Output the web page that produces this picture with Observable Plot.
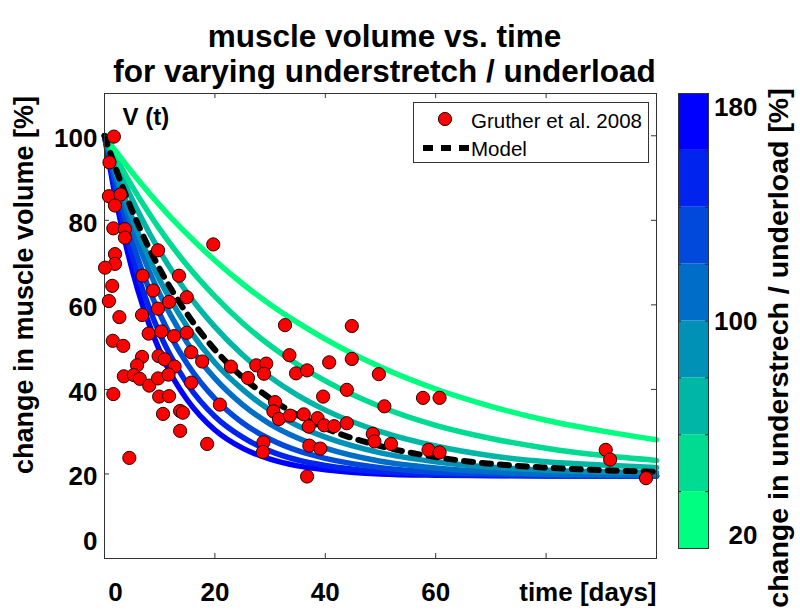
<!DOCTYPE html>
<html><head><meta charset="utf-8">
<script src="https://cdn.jsdelivr.net/npm/d3@7"></script>
<script src="https://cdn.jsdelivr.net/npm/@observablehq/plot@0.6"></script>
<style>
body{margin:0;background:#fff;}
#wrap{position:relative;width:800px;height:615px;overflow:hidden;background:#fff;}
#wrap > svg, #wrap > div {position:absolute;left:0;top:0;}
</style></head><body><div id="wrap"></div>
<script>
// ---------- data ----------
const titleLines = ["muscle volume vs. time", "for varying understretch / underload"];
const yLabel = "change in muscle volume [%]";
const xLabel = "time [days]";
const cbLabel = "change in understrech / underload [%]";
const legendLabels = ["Gruther et al. 2008", "Model"];
const panelLabel = "V (t)";

const xTicks = [20, 40, 60, 80];
const xTickLabels = [20, 40, 60];
const yTicks = [20, 40, 60, 80, 100];
const cbTickLabels = [20, 100, 180];

// model curves (time in days, volume in %)
const days = [0, 2, 4, 6, 8, 10, 12, 15, 20, 25, 30, 35, 40, 50, 60, 70, 80, 90, 100];
const underload = [20, 43, 66, 89, 111, 134, 157, 180];
const vol20  = [100, 96.4, 93.0, 89.7, 86.6, 83.6, 80.7, 76.7, 70.5, 65.0, 60.1, 55.8, 51.9, 45.3, 40.1, 36.0, 32.7, 30.2, 28.1];
const vol43  = [100, 95.0, 90.3, 85.9, 81.8, 77.9, 74.3, 69.3, 62.0, 55.7, 50.4, 45.9, 42.0, 35.9, 31.5, 28.4, 26.1, 24.4, 23.2];
const vol66  = [100, 93.6, 87.7, 82.3, 77.3, 72.7, 68.5, 62.8, 54.8, 48.2, 42.9, 38.6, 35.1, 30.0, 26.6, 24.3, 22.9, 22.1, 21.5];
const vol89  = [100, 91.6, 84.1, 77.3, 71.3, 65.9, 61.1, 54.8, 46.3, 40.0, 35.1, 31.4, 28.7, 25.0, 22.9, 21.6, 20.9, 20.5, 20.3];
const vol111 = [100, 90.5, 82.2, 74.8, 68.3, 62.6, 57.5, 51.0, 42.6, 36.4, 31.8, 28.5, 26.1, 23.0, 21.4, 20.5, 20.0, 19.8, 19.7];
const vol134 = [100, 88.9, 79.4, 71.1, 64.0, 57.9, 52.6, 46.0, 37.8, 32.1, 28.2, 25.5, 23.7, 21.5, 20.4, 20.0, 19.7, 19.6, 19.5];
const vol157 = [100, 87.2, 76.3, 67.3, 59.6, 53.2, 47.9, 41.3, 33.6, 28.7, 25.4, 23.3, 22.0, 20.5, 19.9, 19.7, 19.6, 19.5, 19.5];
const vol180 = [100, 85.4, 73.5, 63.7, 55.7, 49.1, 43.7, 37.5, 30.4, 26.1, 23.5, 21.9, 21.0, 20.0, 19.7, 19.6, 19.5, 19.5, 19.5];
const modelVol = [100, 92.4, 85.5, 79.3, 73.6, 68.5, 63.9, 57.8, 49.4, 42.9, 37.9, 33.9, 30.8, 26.6, 24.0, 22.4, 21.5, 20.9, 20.5];
const curveColors = ["#00ff80", "#00db92", "#00b6a4", "#0092b6", "#006dc8", "#0049db", "#0024ed", "#0000ff"];

// Gruther et al. 2008 measurements
const dotDays = [1.7, 0.9, 0.8, 2.9, 1.9, 1.6, 3.7, 3.7, 19.7, 9.7, 1.9, 1.9, 0.1, 6.9, 13.5, 1.4, 8.8, 0.8, 14.9, 11.7,
  9.7, 2.7, 6.8, 32.7, 8.0, 10.3, 12.6, 14.9, 1.5, 3.4, 15.7, 6.8, 17.7, 33.5, 40.7, 9.8, 10.9, 5.9, 12.7, 22.9,
  27.5, 29.3, 28.9, 34.7, 36.7, 3.5, 5.3, 6.4, 8.1, 9.7, 11.6, 26.0, 15.7, 1.6, 9.9, 11.7, 39.6, 30.9, 20.9, 13.7,
  14.2, 10.6, 30.6, 31.6, 33.6, 36.1, 38.6, 37.0, 39.8, 41.6, 13.7, 18.6, 28.8, 28.7, 37.1, 39.1, 4.5, 36.7, 44.8, 44.8,
  43.9, 49.7, 43.9, 48.6, 48.9, 50.7, 51.9, 57.7, 60.7, 58.7, 60.7, 90.8, 91.6, 98.1];
const dotVolume = [99.8, 93.7, 85.7, 86.1, 83.5, 78.1, 77.9, 75.9, 74.3, 72.9, 72.0, 69.7, 68.8, 66.9, 66.9, 64.5, 63.4, 60.9, 61.8, 60.7,
  59.1, 57.1, 57.6, 55.2, 53.2, 53.7, 52.6, 53.4, 51.5, 50.3, 48.8, 47.7, 46.6, 48.1, 46.4, 47.9, 47.1, 45.7, 45.4, 45.4,
  45.7, 46.1, 43.7, 43.8, 44.5, 43.1, 43.4, 42.5, 40.9, 42.6, 43.5, 42.7, 41.6, 38.9, 38.3, 38.4, 38.3, 37.0, 36.4, 34.9,
  34.5, 34.2, 34.8, 33.0, 33.8, 34.1, 33.2, 31.2, 31.5, 31.3, 30.2, 27.1, 27.5, 25.2, 26.7, 26.0, 23.8, 19.4, 55.0, 47.2,
  39.9, 43.6, 32.0, 29.5, 27.7, 36.0, 27.1, 38.0, 38.0, 25.7, 25.1, 25.7, 23.4, 19.0];

// colorbar bands
const bandEdges = [15, 36.25, 57.5, 78.75, 100, 121.25, 142.5, 163.75, 185];
const bandColors = ["#00ff80", "#00db92", "#00b6a4", "#0092b6", "#006dc8", "#0049db", "#0024ed", "#0000ff"];

// ---------- build ----------
const F = "'Liberation Sans', Arial, Helvetica, sans-serif";
const curveSeries = [vol20, vol43, vol66, vol89, vol111, vol134, vol157, vol180];
const curveMarks = curveSeries.map((vals, k) =>
  Plot.line(days.map((t, i) => ({t, v: vals[i], u: underload[k]})),
    {x: "t", y: "v", stroke: curveColors[k], strokeWidth: 5.5, curve: "monotone-x"})
).reverse();
const modelRows = days.map((t, i) => ({t, v: modelVol[i]}));
const dotRows = dotDays.map((t, i) => ({t, v: dotVolume[i]}));
const bold = {fontWeight: "bold", fill: "#000"};

const main = Plot.plot({
  width: 800, height: 615,
  marginLeft: 104, marginRight: 144, marginTop: 93, marginBottom: 57,
  x: {domain: [0, 100], axis: null},
  y: {domain: [0, 110], axis: null},
  style: {fontFamily: F, background: "transparent", overflow: "visible"},
  marks: [
    ...curveMarks,
    Plot.line(modelRows, {x: "t", y: "v", stroke: "#000", strokeWidth: 6, strokeDasharray: "9 9", curve: "monotone-x"}),
    Plot.frame({stroke: "#333", strokeWidth: 1}),
    Plot.tickX(xTicks, {x: d => d, insetTop: 460, stroke: "#333"}),
    Plot.tickX(xTicks, {x: d => d, insetBottom: 460, stroke: "#333"}),
    Plot.tickY(yTicks, {y: d => d, insetRight: 547, stroke: "#333"}),
    Plot.tickY(yTicks, {y: d => d, insetLeft: 547, stroke: "#333"}),
    Plot.dot(dotRows, {x: "t", y: "v", r: 6.6, fill: "#ff0000", stroke: "#2a0000", strokeWidth: 1}),
    Plot.text(xTickLabels, {x: d => d, text: d => String(d), frameAnchor: "bottom", dy: 34, textAnchor: "middle", lineAnchor: "middle", fontSize: 26, ...bold}),
    Plot.text([0], {x: d => d, text: d => String(d), frameAnchor: "bottom", dx: 11, dy: 34, textAnchor: "middle", lineAnchor: "middle", fontSize: 26, ...bold}),
    Plot.text([xLabel], {text: d => d, frameAnchor: "bottom-right", dy: 34, textAnchor: "end", lineAnchor: "middle", fontSize: 26, ...bold}),
    Plot.text(yTicks, {y: d => d, text: d => String(d), frameAnchor: "left", dx: -7, dy: 3, textAnchor: "end", lineAnchor: "middle", fontSize: 26, ...bold}),
    Plot.text([0], {y: d => d, text: d => String(d), frameAnchor: "left", dx: -7, dy: -17, textAnchor: "end", lineAnchor: "middle", fontSize: 26, ...bold}),
    Plot.text([yLabel], {text: d => d, frameAnchor: "left", dx: -80, dy: -41, rotate: -90, textAnchor: "middle", lineAnchor: "middle", fontSize: 27, ...bold}),
    Plot.text([titleLines[0]], {text: d => d, frameAnchor: "top", dx: 4, dy: -47, textAnchor: "middle", lineAnchor: "bottom", fontSize: 31.5, ...bold}),
    Plot.text([titleLines[1]], {text: d => d, frameAnchor: "top", dx: 4, dy: -12, textAnchor: "middle", lineAnchor: "bottom", fontSize: 31.5, ...bold}),
    Plot.text([panelLabel], {text: d => d, frameAnchor: "top-left", dx: 18, dy: 24, textAnchor: "start", lineAnchor: "middle", fontSize: 24, ...bold})
  ]
});

const bandRows = bandColors.map((c, i) => ({lo: bandEdges[i], hi: bandEdges[i + 1], color: c}));
const innerEdges = bandEdges.slice(1, -1);
const cb = Plot.plot({
  width: 800, height: 615,
  marginLeft: 678, marginRight: 92, marginTop: 93, marginBottom: 67,
  x: {domain: [0, 1], axis: null},
  y: {domain: [15, 185], axis: null},
  color: {type: "identity"},
  style: {fontFamily: F, background: "transparent", overflow: "visible"},
  marks: [
    Plot.rect(bandRows, {x1: 0, x2: 1, y1: "lo", y2: "hi", fill: "color"}),
    Plot.tickY(innerEdges, {y: d => d, insetRight: 27, stroke: "#222"}),
    Plot.tickY(innerEdges, {y: d => d, insetLeft: 27, stroke: "#222"}),
    Plot.frame({stroke: "#333", strokeWidth: 1}),
    Plot.text(cbTickLabels, {y: d => d, text: d => String(d), frameAnchor: "right", dx: 49, dy: 1, textAnchor: "end", lineAnchor: "middle", fontSize: 26, ...bold}),
    Plot.text([cbLabel], {text: d => d, frameAnchor: "right", dx: 70, dy: 27, rotate: -90, textAnchor: "middle", lineAnchor: "middle", fontSize: 28.5, ...bold})
  ]
});

const wrap = document.getElementById("wrap");
wrap.appendChild(main);
wrap.appendChild(cb);

const leg = document.createElement("div");
leg.style.cssText = "left:413px;top:102px;width:234px;height:59px;border:1px solid #333;background:#fff;";
leg.innerHTML = `<svg width="234" height="59" style="display:block;font-family:${F.replace(/"/g, "'")}">
  <circle cx="31" cy="16" r="6.6" fill="#ff0000" stroke="#2a0000" stroke-width="1"></circle>
  <line x1="9" x2="55" y1="45" y2="45" stroke="#000" stroke-width="6" stroke-dasharray="10 8"></line>
  <text x="57" y="24.5" font-size="20.5" fill="#000">${legendLabels[0]}</text>
  <text x="57" y="52.5" font-size="20.5" fill="#000">${legendLabels[1]}</text>
</svg>`;
wrap.appendChild(leg);
</script></body></html>
